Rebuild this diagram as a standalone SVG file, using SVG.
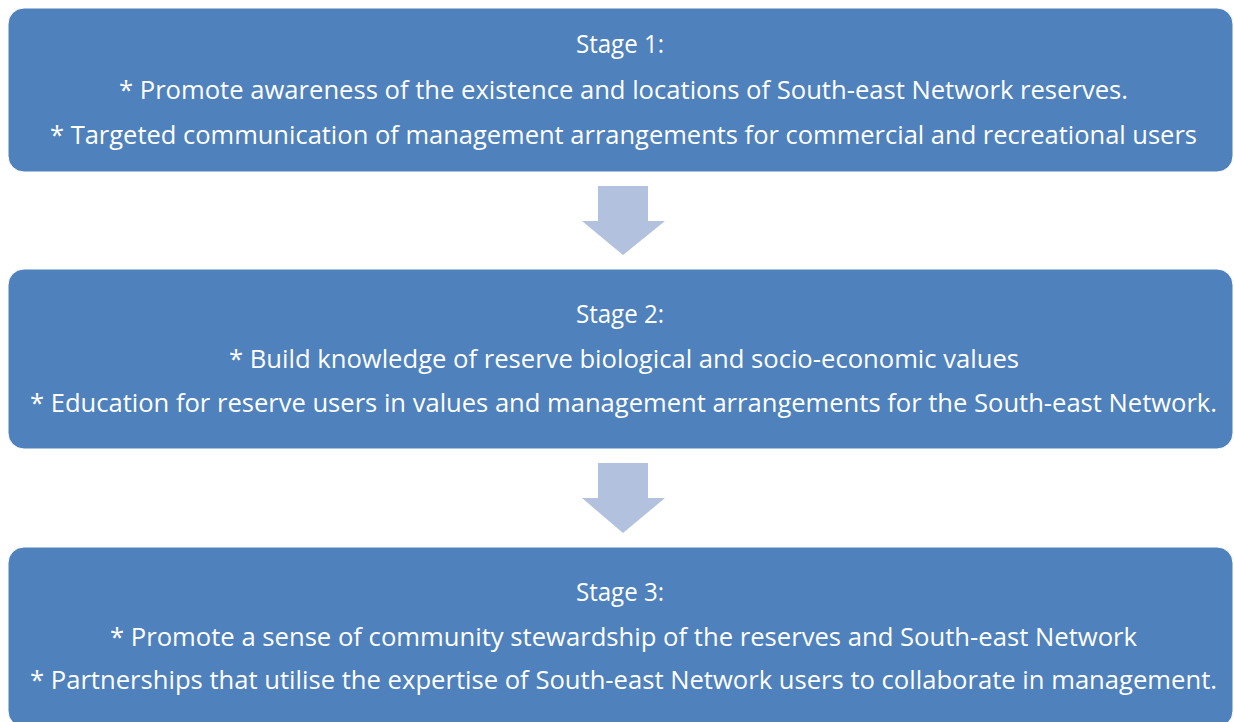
<svg xmlns="http://www.w3.org/2000/svg" width="1234" height="722" viewBox="0 0 1234 722">
  <defs>
    <style>
      .box { fill: #4F81BD; stroke: #FFFFFF; stroke-width: 1; }
      .arrow { fill: #B2C1DD; }
      .label { font-family: "Open Sans", "Noto Sans", "Liberation Sans", sans-serif; font-size: 25px; fill: #FFFFFF; text-anchor: middle; }
    </style>
  </defs>
  <rect width="1234" height="722" fill="#FFFFFF"/>

  <!-- connectors: block arrows between stages -->
  <g id="connectors">
    <polygon class="arrow" points="598,186 648,186 648,221 665,221 623,255 582,221 598,221"/>
    <polygon class="arrow" points="598,463 648,463 648,498 665,498 623,533 582,498 598,498"/>
  </g>

  <g id="stage1">
    <rect class="box" x="8" y="8" width="1225" height="164" rx="16" ry="16"/>
    <text class="label" x="620" y="53" textLength="88" lengthAdjust="spacingAndGlyphs">Stage 1:</text>
    <text class="label" x="623.5" y="99" textLength="1009" lengthAdjust="spacingAndGlyphs">* Promote awareness of the existence and locations of South-east Network reserves.</text>
    <text class="label" x="623.5" y="144" textLength="1147" lengthAdjust="spacingAndGlyphs">* Targeted communication of management arrangements for commercial and recreational users</text>
  </g>

  <g id="stage2">
    <rect class="box" x="8" y="269" width="1225" height="180" rx="16" ry="16"/>
    <text class="label" x="620" y="323" textLength="88" lengthAdjust="spacingAndGlyphs">Stage 2:</text>
    <text class="label" x="624" y="368" textLength="790" lengthAdjust="spacingAndGlyphs">* Build knowledge of reserve biological and socio-economic values</text>
    <text class="label" x="623.5" y="412" textLength="1187" lengthAdjust="spacingAndGlyphs">* Education for reserve users in values and management arrangements for the South-east Network.</text>
  </g>

  <g id="stage3">
    <rect class="box" x="8" y="547" width="1225" height="180" rx="16" ry="16"/>
    <text class="label" x="620" y="601" textLength="88" lengthAdjust="spacingAndGlyphs">Stage 3:</text>
    <text class="label" x="623.5" y="646" textLength="1027" lengthAdjust="spacingAndGlyphs">* Promote a sense of community stewardship of the reserves and South-east Network</text>
    <text class="label" x="623.5" y="689" textLength="1187" lengthAdjust="spacingAndGlyphs">* Partnerships that utilise the expertise of South-east Network users to collaborate in management.</text>
  </g>
</svg>
